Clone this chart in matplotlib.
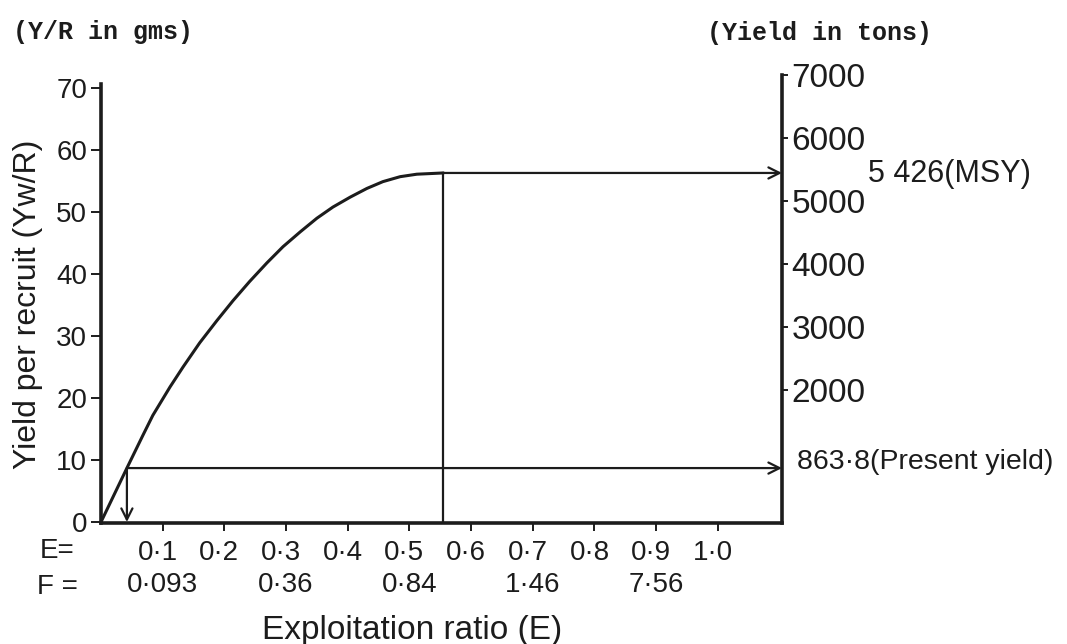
import matplotlib
matplotlib.use("Agg")
import matplotlib.pyplot as plt
import matplotlib.transforms as mtransforms

# yield-per-recruit curve (E vs Y/R in gms)
e_curve = [0.0, 0.042, 0.068, 0.084, 0.112, 0.133, 0.160, 0.188, 0.214, 0.241, 0.269,
           0.295, 0.323, 0.350, 0.376, 0.404, 0.431, 0.457, 0.485, 0.512, 0.555]
yr_curve = [0.0, 8.7, 14.0, 17.2, 21.8, 25.0, 28.9, 32.5, 35.7, 38.8, 41.8,
            44.4, 46.8, 49.0, 50.8, 52.4, 53.8, 54.9, 55.7, 56.1, 56.3]

# MSY and present yield markers
msy_e, msy_yr, msy_tons = 0.555, 56.3, 5426
present_e, present_yr, present_tons = 0.042, 8.7, 863.8

e_ticks = [0.1, 0.2, 0.3, 0.4, 0.5, 0.6, 0.7, 0.8, 0.9, 1.0]
e_labels = ["0·1", "0·2", "0·3", "0·4", "0·5", "0·6", "0·7", "0·8", "0·9", "1·0"]
f_pos = [0.1, 0.3, 0.5, 0.7, 0.9]
f_labels = ["0·093", "0·36", "0·84", "1·46", "7·56"]
yr_ticks = [0, 10, 20, 30, 40, 50, 60, 70]
tons_ticks = [2000, 3000, 4000, 5000, 6000, 7000]

plt.rcParams['font.family'] = ['Liberation Sans', 'DejaVu Sans']
ink = '#1c1c1c'

W, H = 1067, 644
fig = plt.figure(figsize=(W / 100, H / 100), dpi=100)
ax = fig.add_axes([101 / W, 1 - 523 / H, 681 / W, 448 / H])
ax2 = ax.twinx()

x_max = 1.104
ax.set_xlim(0, x_max)
ax.set_ylim(-0.16, 72.1)
ax2.set_ylim(-111, 7000)

# curve + construction lines
ax.plot(e_curve, yr_curve, color=ink, lw=2.2, solid_capstyle='round', clip_on=False)
ax.plot([msy_e, msy_e], [0, msy_yr], color=ink, lw=1.6)
arrow = dict(arrowstyle='->', color=ink, lw=1.6, mutation_scale=20, shrinkA=0, shrinkB=0)
ax.annotate('', xy=(x_max, msy_yr), xytext=(msy_e, msy_yr), arrowprops=arrow)
ax.annotate('', xy=(x_max, present_yr), xytext=(present_e, present_yr), arrowprops=arrow)
ax.annotate('', xy=(present_e, 0), xytext=(present_e, present_yr), arrowprops=arrow)

# spines
for s in ['top', 'right']:
    ax.spines[s].set_visible(False)
for s in ['top', 'left', 'bottom']:
    ax2.spines[s].set_visible(False)
ax.spines['left'].set_bounds(-0.16, 70.6)
ax.spines['left'].set_linewidth(2.6)
ax.spines['bottom'].set_linewidth(2.6)
ax2.spines['right'].set_linewidth(2.6)
for sp in ax.spines.values():
    sp.set_color(ink)
ax2.spines['right'].set_color(ink)

# ticks
ax.set_yticks(yr_ticks)
ax.set_yticklabels([str(v) for v in yr_ticks])
ax.tick_params(axis='y', direction='out', length=7, width=1.4, pad=3, labelsize=20, colors=ink)
ax.set_xticks(e_ticks)
ax.set_xticklabels(e_labels)
ax.tick_params(axis='x', direction='out', length=6, width=1.4, pad=6, labelsize=20, colors=ink)
shift = mtransforms.ScaledTranslation(-5 / 100, 0, fig.dpi_scale_trans)
for lab in ax.get_xticklabels():
    lab.set_transform(lab.get_transform() + shift)

ax2.set_yticks(tons_ticks)
ax2.set_yticklabels([str(v) for v in tons_ticks])
ax2.tick_params(axis='y', direction='out', length=4, width=1.4, pad=3, labelsize=24, colors=ink)

# F row under the E ticks
bt = mtransforms.blended_transform_factory(ax.transData, fig.transFigure)
for x, lab in zip(f_pos, f_labels):
    ax.text(x, 1 - 585 / H, lab, transform=bt, ha='center', va='center', fontsize=20, color=ink)
fig.text(57 / W, 1 - 551 / H, "E=", ha='center', va='center', fontsize=20, color=ink)
fig.text(57 / W, 1 - 587 / H, "F =", ha='center', va='center', fontsize=20, color=ink)

# side annotations
bt2 = mtransforms.blended_transform_factory(ax2.transAxes, ax2.transData)
ax2.text(1.126, msy_tons, "5 426(MSY)", transform=bt2, ha='left', va='center',
         fontsize=22, color=ink)
ax2.text(1.022, present_tons, "863·8(Present yield)", transform=bt2, ha='left', va='center',
         fontsize=20.5, color=ink)

# axis titles
fig.text(28 / W, 1 - 304 / H, "Yield per recruit (Yw/R)", rotation=90, ha='center',
         va='center', fontsize=23, color=ink)
fig.text(412 / W, 1 - 630 / H, "Exploitation ratio (E)", ha='center', va='center',
         fontsize=24, color=ink)
fig.text(13 / W, 1 - 32 / H, "(Y/R in gms)", ha='left', va='center', fontsize=18,
         family=['Liberation Mono', 'DejaVu Sans Mono'], weight='bold', color=ink)
fig.text(707 / W, 1 - 33 / H, "(Yield in tons)", ha='left', va='center', fontsize=18,
         family=['Liberation Mono', 'DejaVu Sans Mono'], weight='bold', color=ink)

fig.savefig("out.png", dpi=100, facecolor='white')
